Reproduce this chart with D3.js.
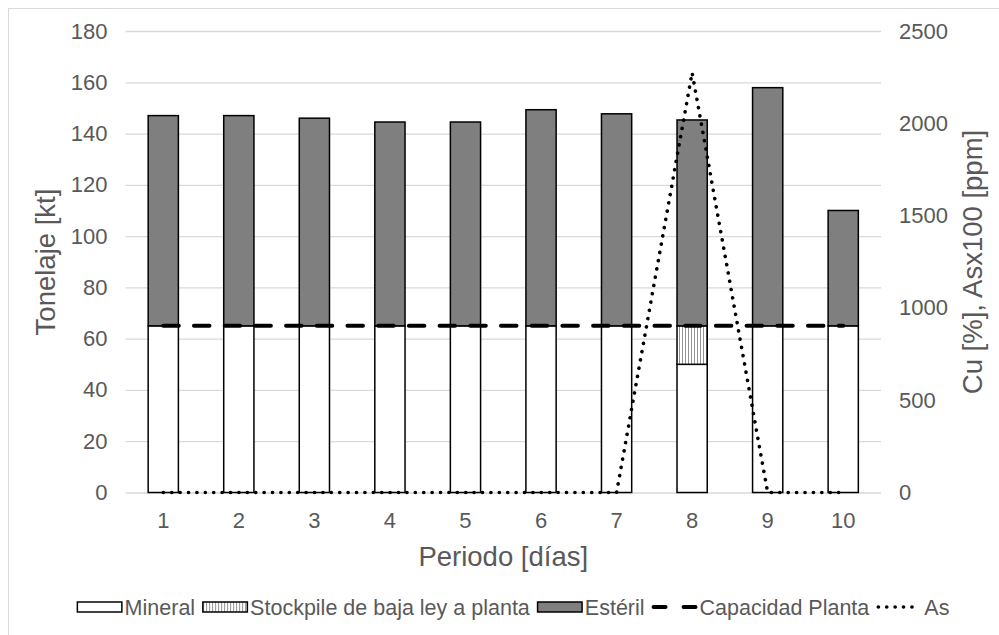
<!DOCTYPE html>
<html>
<head>
<meta charset="utf-8">
<script src="https://cdn.jsdelivr.net/npm/d3@7"></script>
<style>
    body { margin: 0; background: #fff; }
    svg { display: block; font-family: "Liberation Sans", Arial, sans-serif; }
</style>
</head>
<body>
<div id="chart"></div>
<script>
// Data
const periods = ['1', '2', '3', '4', '5', '6', '7', '8', '9', '10'];
const mineral = [65, 65, 65, 65, 65, 65, 65, 50, 65, 65];
const stockpile = [0, 0, 0, 0, 0, 0, 0, 15, 0, 0];
const esteril = [82, 82, 81, 79.5, 79.5, 84.3, 82.7, 80.3, 92.9, 45];
const capacidadPlanta = [65, 65, 65, 65, 65, 65, 65, 65, 65, 65];
const asValues = [0, 0, 0, 0, 0, 0, 0, 2275, 0, 0];

const leftTicks = [0, 20, 40, 60, 80, 100, 120, 140, 160, 180];
const rightTicks = [0, 500, 1000, 1500, 2000, 2500];
const legendLabels = ['Mineral', 'Stockpile de baja ley a planta', 'Estéril', 'Capacidad Planta', 'As'];

/**
 * Stacked bar chart with two line series on a second axis
 */
class TonnageChart {
    constructor() {
        this.WIDTH = 999;
        this.HEIGHT = 635;
        this.PLOT = {left: 125.5, right: 881, top: 31, bottom: 492.5};
        this.TEXT = '#595959';
        this.GRID = '#d9d9d9';

        this.drawChart();
    }

    drawChart() {
        let svg = d3.select('#chart').append('svg')
            .attr('width', this.WIDTH)
            .attr('height', this.HEIGHT);

        // outer chart border
        svg.append('rect')
            .attr('x', 8.5).attr('y', 8.5)
            .attr('width', 1010).attr('height', 640)
            .attr('fill', 'none')
            .attr('stroke', this.GRID);

        // vertical stripes for the stockpile series
        let pattern = svg.append('defs').append('pattern')
            .attr('id', 'stripes')
            .attr('patternUnits', 'userSpaceOnUse')
            .attr('width', 3).attr('height', 10);
        pattern.append('rect').attr('width', 3).attr('height', 10).attr('fill', '#fff');
        pattern.append('line')
            .attr('x1', 1.5).attr('x2', 1.5).attr('y1', 0).attr('y2', 10)
            .attr('stroke', '#777').attr('stroke-width', 0.8);

        let xScale = d3.scaleBand()
            .domain(periods)
            .range([this.PLOT.left, this.PLOT.right])
            .paddingInner(0.6)
            .paddingOuter(0.3);
        let yLeft = d3.scaleLinear([0, 180], [this.PLOT.bottom, this.PLOT.top]);
        let yRight = d3.scaleLinear([0, 2500], [this.PLOT.bottom, this.PLOT.top]);

        // left axis with gridlines
        let leftAxis = svg.append('g')
            .attr('transform', `translate(${this.PLOT.left}, 0)`)
            .call(d3.axisLeft(yLeft)
                .tickValues(leftTicks)
                .tickSize(-(this.PLOT.right - this.PLOT.left))
                .tickPadding(18));
        leftAxis.select('.domain').remove();
        leftAxis.selectAll('line').attr('stroke', this.GRID).attr('stroke-width', 1.3);
        leftAxis.selectAll('text')
            .attr('fill', this.TEXT)
            .style('font-size', '22px');

        // right axis
        let rightAxis = svg.append('g')
            .attr('transform', `translate(${this.PLOT.right}, 0)`)
            .call(d3.axisRight(yRight)
                .tickValues(rightTicks)
                .tickFormat(d3.format('d'))
                .tickSize(0)
                .tickPadding(18));
        rightAxis.select('.domain').remove();
        rightAxis.selectAll('text')
            .attr('fill', this.TEXT)
            .style('font-size', '22px');

        // bottom axis
        let bottomAxis = svg.append('g')
            .attr('transform', `translate(0, ${this.PLOT.bottom})`)
            .call(d3.axisBottom(xScale).tickSize(0).tickPadding(20));
        bottomAxis.select('.domain').remove();
        bottomAxis.selectAll('text')
            .attr('fill', this.TEXT)
            .style('font-size', '22px');

        // axis titles
        svg.append('text')
            .attr('transform', `translate(45, 262) rotate(-90)`)
            .attr('text-anchor', 'middle')
            .attr('dy', '0.35em')
            .attr('fill', this.TEXT)
            .style('font-size', '27.5px')
            .text('Tonelaje [kt]');
        svg.append('text')
            .attr('transform', `translate(972, 262) rotate(-90)`)
            .attr('text-anchor', 'middle')
            .attr('dy', '0.35em')
            .attr('fill', this.TEXT)
            .style('font-size', '27.5px')
            .text('Cu [%], Asx100 [ppm]');
        svg.append('text')
            .attr('x', (this.PLOT.left + this.PLOT.right) / 2)
            .attr('y', 556)
            .attr('text-anchor', 'middle')
            .attr('dy', '0.35em')
            .attr('fill', this.TEXT)
            .style('font-size', '27.5px')
            .text('Periodo [días]');

        // stacked bars
        let rows = periods.map((p, i) => ({
            period: p, mineral: mineral[i], stockpile: stockpile[i], esteril: esteril[i]
        }));
        let stack = d3.stack().keys(['mineral', 'stockpile', 'esteril'])(rows);
        let fills = {mineral: '#fff', stockpile: 'url(#stripes)', esteril: '#7f7f7f'};

        let barGroup = svg.append('g').attr('id', 'bars');
        barGroup.selectAll('g')
            .data(stack)
            .join('g')
            .attr('fill', (d) => fills[d.key])
            .selectAll('rect')
            .data((d) => d.filter((s) => s[1] - s[0] > 0))
            .join('rect')
            .attr('x', (d) => xScale(d.data.period))
            .attr('width', xScale.bandwidth())
            .attr('y', (d) => yLeft(d[1]))
            .attr('height', (d) => yLeft(d[0]) - yLeft(d[1]))
            .attr('stroke', '#000')
            .attr('stroke-width', 1.5);

        let cx = (p) => xScale(p) + xScale.bandwidth() / 2;

        // Capacidad Planta (dashed)
        svg.append('path')
            .datum(capacidadPlanta)
            .attr('fill', 'none')
            .attr('stroke', '#000')
            .attr('stroke-width', 4)
            .attr('stroke-dasharray', '15.5 15.2')
            .attr('stroke-linecap', 'round')
            .attr('d', d3.line().x((d, i) => cx(periods[i])).y((d) => yLeft(d)));

        // As (dotted, right axis)
        svg.append('path')
            .datum(asValues)
            .attr('fill', 'none')
            .attr('stroke', '#000')
            .attr('stroke-width', 3.6)
            .attr('stroke-dasharray', '0.1 8.3')
            .attr('stroke-linecap', 'round')
            .attr('d', d3.line().x((d, i) => cx(periods[i])).y((d) => yRight(d)));

        this.drawLegend(svg);
    }

    drawLegend(svg) {
        let legend = svg.append('g').attr('id', 'legend');
        let x = 0;
        let swatchW = 46;
        legendLabels.forEach((label, i) => {
            let item = legend.append('g').attr('transform', `translate(${x}, 0)`);
            if (i < 3) {
                item.append('rect')
                    .attr('x', 0.75).attr('y', -5)
                    .attr('width', swatchW - 1.5).attr('height', 10)
                    .attr('fill', ['#fff', 'url(#stripes)', '#7f7f7f'][i])
                    .attr('stroke', '#000')
                    .attr('stroke-width', 1.5);
            } else if (i === 3) {
                item.append('line')
                    .attr('x1', 2).attr('x2', swatchW - 2)
                    .attr('stroke', '#000').attr('stroke-width', 4)
                    .attr('stroke-linecap', 'round')
                    .attr('stroke-dasharray', '12 18');
            } else {
                item.append('line')
                    .attr('x1', 2).attr('x2', swatchW - 2)
                    .attr('stroke', '#000').attr('stroke-width', 3.6)
                    .attr('stroke-linecap', 'round')
                    .attr('stroke-dasharray', '0.1 8.3');
            }
            let text = item.append('text')
                .attr('x', swatchW + 2)
                .attr('dy', '0.35em')
                .attr('fill', this.TEXT)
                .style('font-size', '21.5px')
                .text(label);
            x += swatchW + 2 + text.node().getComputedTextLength() + 7;
        });
        let total = x - 7;
        legend.attr('transform', `translate(${513 - total / 2}, 607)`);
    }
}

new TonnageChart();
</script>
</body>
</html>
